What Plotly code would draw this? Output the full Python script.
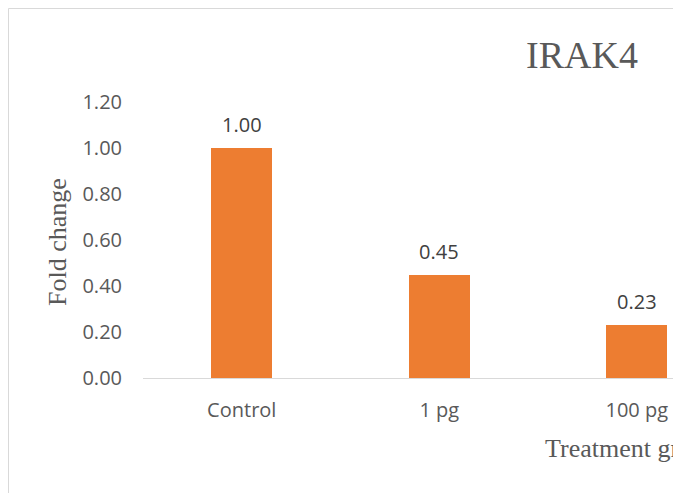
import plotly.graph_objects as go

categories = ["Control", "1 pg", "100 pg"]
fold_change = [1.00, 0.45, 0.23]
label_text = ["1.00", "0.45", "0.23"]
y_ticks = [0.0, 0.2, 0.4, 0.6, 0.8, 1.0, 1.2]

OFF = 8  # page body margin
W, H = 686 - OFF, 493 - OFF
# plot area in reference pixels: x 143..673, y 102..378
L, T = 143 - OFF, 102 - OFF
R = W - (673 - OFF)
B = H - (378 - OFF)
pw, ph = W - L - R, H - T - B

def px_x(px):
    return (px - OFF - L) / pw

def px_y(py):
    return (H - B - (py - OFF)) / ph

fig = go.Figure()
fig.add_trace(go.Bar(
    x=list(range(len(categories))), y=fold_change,
    marker=dict(color="#ED7D31", line=dict(width=0)),
    width=0.31, hoverinfo="skip",
))

ann = []
for i, (v, t) in enumerate(zip(fold_change, label_text)):
    ann.append(dict(x=i, y=v, xref="x", yref="y", text=t, showarrow=False,
                    yanchor="bottom", yshift=8,
                    font=dict(family="Open Sans", size=20, color="#404040")))
ann.append(dict(x=px_x(582), y=px_y(55), xref="paper", yref="paper", text="IRAK4",
                showarrow=False, xanchor="center", yanchor="middle",
                font=dict(family="Liberation Serif", size=38, color="#595959")))
ann.append(dict(x=px_x(57), y=px_y(242), xref="paper", yref="paper", text="Fold change",
                showarrow=False, textangle=-90, xanchor="center", yanchor="middle",
                font=dict(family="Liberation Serif", size=26, color="#595959")))
ann.append(dict(x=px_x(543), y=px_y(448), xref="paper", yref="paper", text="Treatment groups",
                showarrow=False, xanchor="left", yanchor="middle",
                font=dict(family="Liberation Serif", size=26, color="#595959")))
# white strip at the right edge (the reference image is cropped there)
ann.append(dict(x=px_x(673), y=px_y(493 / 2), xref="paper", yref="paper", text=" ",
                showarrow=False, xanchor="left", yanchor="middle",
                width=30, height=H + 40, bgcolor="white", borderpad=0, borderwidth=0))

fig.update_layout(
    width=W, height=H,
    margin=dict(l=L, r=R, t=T, b=B, pad=0),
    paper_bgcolor="white", plot_bgcolor="white",
    showlegend=False,
    bargap=0,
    annotations=ann,
    shapes=[dict(type="rect", xref="paper", yref="paper",
                 x0=px_x(OFF + 0.5), x1=px_x(720), y0=px_y(530), y1=px_y(OFF + 0.5),
                 line=dict(color="#D9D9D9", width=1), fillcolor="rgba(0,0,0,0)",
                 layer="below")],
    xaxis=dict(
        range=[-0.5, -0.5 + pw / 197.5],
        tickmode="array", tickvals=list(range(len(categories))), ticktext=categories,
        showgrid=False, zeroline=False, showline=True, linecolor="#D9D9D9", linewidth=1,
        ticks="", ticklabelstandoff=14,
        tickfont=dict(family="Open Sans", size=20, color="#595959"),
    ),
    yaxis=dict(
        range=[0, 1.2], tickmode="array", tickvals=y_ticks,
        ticktext=[f"{v:.2f}" for v in y_ticks],
        showgrid=False, zeroline=False, showline=False,
        ticks="", ticklabelstandoff=20,
        tickfont=dict(family="Open Sans", size=20, color="#595959"),
    ),
)

fig.write_html("out.html")
